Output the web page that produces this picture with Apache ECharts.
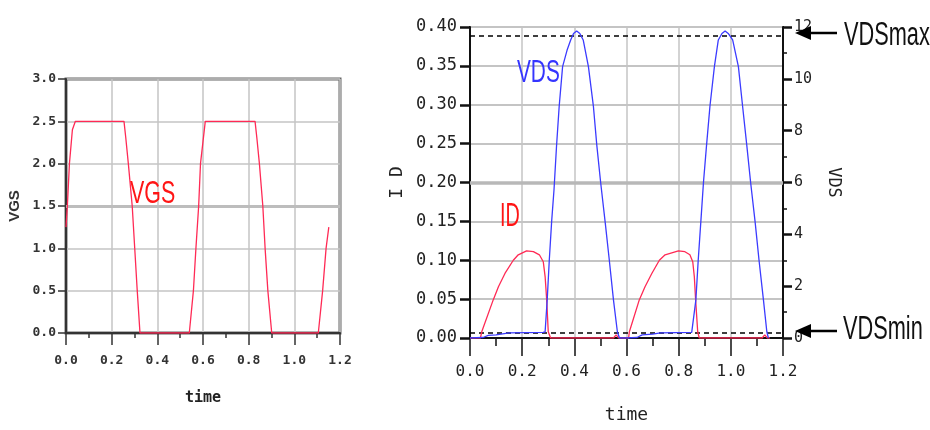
<!DOCTYPE html>
<html><head><meta charset="utf-8">
<script src="https://cdn.jsdelivr.net/npm/echarts@6/dist/echarts.min.js"></script>
<style>html,body{margin:0;padding:0;background:#fff}#c{width:930px;height:430px}</style>
</head><body><div id="c"></div>
<script>
// Left chart: VGS vs time
const vgsTime  = [0, 0.006, 0.015, 0.028, 0.041, 0.254, 0.262, 0.273, 0.29, 0.301, 0.312, 0.324, 0.54, 0.558, 0.569, 0.581, 0.589, 0.61, 0.828, 0.836, 0.847, 0.862, 0.872, 0.884, 0.901, 1.105, 1.124, 1.139, 1.151];
const vgsValue = [1.25, 1.5, 2.0, 2.4, 2.5, 2.5, 2.3, 2.0, 1.5, 1.0, 0.5, 0, 0, 0.5, 1.0, 1.5, 2.0, 2.5, 2.5, 2.3, 2.0, 1.5, 1.0, 0.5, 0, 0, 0.5, 1.0, 1.25];

// Right chart: ID (left axis) and VDS (right axis) vs time
const idTime  = [0, 0.04, 0.045, 0.089, 0.109, 0.134, 0.166, 0.185, 0.217, 0.243, 0.266, 0.281, 0.288, 0.294, 0.3, 0.309, 0.55, 0.56, 0.57, 0.608, 0.611, 0.649, 0.671, 0.697, 0.726, 0.748, 0.799, 0.824, 0.843, 0.854, 0.86, 0.865, 0.873, 0.879, 1.12, 1.13, 1.14, 1.15];
const idValue = [0, 0, 0.008, 0.049, 0.066, 0.083, 0.1, 0.107, 0.112, 0.111, 0.107, 0.098, 0.079, 0.049, 0.008, 0, 0, 0.004, 0, 0, 0.008, 0.049, 0.066, 0.083, 0.1, 0.107, 0.112, 0.111, 0.107, 0.098, 0.079, 0.049, 0.008, 0, 0, 0.004, 0, 0];

const vdsTime  = [0, 0.05, 0.07, 0.1, 0.15, 0.28, 0.288, 0.296, 0.304, 0.313, 0.322, 0.332, 0.342, 0.355, 0.372, 0.386, 0.397, 0.409, 0.421, 0.434, 0.454, 0.473, 0.486, 0.501, 0.518, 0.534, 0.55, 0.565, 0.573, 0.6, 0.64, 0.66, 0.7, 0.73, 0.85, 0.856, 0.866, 0.875, 0.885, 0.895, 0.907, 0.92, 0.937, 0.952, 0.966, 0.978, 0.99, 1.007, 1.029, 1.045, 1.061, 1.076, 1.093, 1.108, 1.125, 1.138, 1.144];
const vdsValue = [0, 0.02, 0.1, 0.12, 0.2, 0.22, 0.24, 1.47, 3.01, 4.49, 5.71, 7.45, 8.95, 10.47, 11.1, 11.5, 11.75, 11.85, 11.75, 11.5, 10.47, 8.95, 7.45, 5.99, 4.49, 3.01, 1.47, 0.24, 0, 0, 0.02, 0.12, 0.15, 0.2, 0.22, 0.24, 1.47, 3.01, 4.49, 5.99, 7.45, 8.95, 10.47, 11.5, 11.75, 11.85, 11.75, 11.5, 10.47, 8.95, 7.45, 5.99, 4.49, 3.01, 1.47, 0.24, 0];

// Reference levels
const vdsLevels = [11.65, 0.22];      // VDSmax, VDSmin dashed lines (VDS units)
const vgsMidLine = [1.5];
const idMidLine = [0.2];

const pairs = (xs, ys) => xs.map((x, i) => [x, ys[i]]);
const mono = 'DejaVu Sans Mono';
const sans = 'Liberation Sans';

const chart = echarts.init(document.getElementById('c'));

const option = {
  animation: false,
  backgroundColor: '#fff',
  grid: [
    {left: 66, top: 79, width: 274, height: 254, show: true, borderColor: '#666', borderWidth: 3},
    {left: 470, top: 27, width: 313, height: 311, show: true, borderColor: '#111', borderWidth: 2}
  ],
  xAxis: [
    {gridIndex: 0, type: 'value', min: 0, max: 1.2, interval: 0.2,
     name: 'time', nameLocation: 'middle', nameGap: 58,
     nameTextStyle: {fontFamily: mono, fontSize: 15, fontWeight: 'bold', color: '#222'},
     axisLine: {lineStyle: {color: '#333', width: 2}},
     axisTick: {length: 12, lineStyle: {color: '#333', width: 1.5}},
     minorTick: {show: true, splitNumber: 2, length: 5, lineStyle: {color: '#333', width: 1.5}},
     axisLabel: {margin: 21, fontFamily: mono, fontSize: 13, fontWeight: 'bold', color: '#333', formatter: v => v.toFixed(1)},
     splitLine: {show: true, lineStyle: {color: '#c4c4c4', width: 1.5}}},
    {gridIndex: 1, type: 'value', min: 0, max: 1.2, interval: 0.2,
     name: 'time', nameLocation: 'middle', nameGap: 68,
     nameTextStyle: {fontFamily: mono, fontSize: 18, color: '#222'},
     axisLine: {lineStyle: {color: '#111', width: 2}},
     axisTick: {length: 18, lineStyle: {color: '#111', width: 1.5}},
     minorTick: {show: true, splitNumber: 2, length: 8, lineStyle: {color: '#111', width: 1.5}},
     axisLabel: {margin: 26, fontFamily: mono, fontSize: 16, color: '#222', formatter: v => v.toFixed(1)},
     splitLine: {show: true, lineStyle: {color: '#c4c4c4', width: 1.5}}}
  ],
  yAxis: [
    {gridIndex: 0, type: 'value', min: 0, max: 3, interval: 0.5,
     name: 'VGS', nameLocation: 'middle', nameGap: 44, nameRotate: 90,
     nameTextStyle: {fontFamily: sans, fontSize: 15, fontWeight: 'bold', color: '#333'},
     axisLine: {lineStyle: {color: '#333', width: 2}},
     axisTick: {length: 8, lineStyle: {color: '#333', width: 1.5}},
     axisLabel: {margin: 10, fontFamily: mono, fontSize: 13, fontWeight: 'bold', color: '#333', formatter: v => v.toFixed(1)},
     splitLine: {show: true, lineStyle: {color: '#c4c4c4', width: 1.5}}},
    {gridIndex: 1, type: 'value', min: 0, max: 0.4, interval: 0.05,
     name: 'I D', nameLocation: 'middle', nameGap: 64, nameRotate: 90,
     nameTextStyle: {fontFamily: mono, fontSize: 18, color: '#222'},
     axisLine: {lineStyle: {color: '#111', width: 2}},
     axisTick: {length: 10, lineStyle: {color: '#111', width: 2.5}},
     axisLabel: {margin: 13, fontFamily: mono, fontSize: 17, color: '#222', formatter: v => v.toFixed(2)},
     splitLine: {show: true, lineStyle: {color: '#c4c4c4', width: 2}}},
    {gridIndex: 1, type: 'value', position: 'right', min: 0, max: 12, interval: 2,
     name: 'VDS', nameLocation: 'middle', nameGap: 42, nameRotate: -90,
     nameTextStyle: {fontFamily: mono, fontSize: 17, color: '#222'},
     axisLine: {show: true, lineStyle: {color: '#111', width: 2}},
     axisTick: {length: 9, lineStyle: {color: '#111', width: 2.5}},
     minorTick: {show: true, splitNumber: 2, length: 4, lineStyle: {color: '#111', width: 1.5}},
     axisLabel: {margin: 11, fontFamily: mono, fontSize: 15, color: '#222'},
     splitLine: {show: false}}
  ],
  series: [
    {type: 'line', xAxisIndex: 0, yAxisIndex: 0, data: pairs(vgsTime, vgsValue),
     showSymbol: false, lineStyle: {color: '#ff2a55', width: 1.3}, z: 5,
     markLine: {silent: true, symbol: 'none', label: {show: false},
       lineStyle: {color: '#bdbdbd', width: 3, type: 'solid'},
       data: vgsMidLine.map(v => ({yAxis: v}))}},
    {type: 'line', xAxisIndex: 1, yAxisIndex: 1, data: pairs(idTime, idValue),
     showSymbol: false, lineStyle: {color: '#ff2a55', width: 1.3}, z: 5,
     markLine: {silent: true, symbol: 'none', label: {show: false},
       lineStyle: {color: '#b8b8b8', width: 3.5, type: 'solid'},
       data: idMidLine.map(v => ({yAxis: v}))}},
    {type: 'line', xAxisIndex: 1, yAxisIndex: 2, data: pairs(vdsTime, vdsValue),
     showSymbol: false, lineStyle: {color: '#3b3bff', width: 1.3}, z: 6,
     markLine: {silent: true, symbol: 'none', label: {show: false},
       lineStyle: {color: '#000', width: 1.6, type: [5, 4]},
       data: vdsLevels.map(v => ({yAxis: v}))}}
  ],
  graphic: [
    {type: 'text', x: 130, y: 194, scaleX: 0.67, z: 10,
     style: {text: 'VGS', fill: '#ff1515', font: '32px "Liberation Sans"', align: 'left', verticalAlign: 'middle'}},
    {type: 'text', x: 517, y: 73, scaleX: 0.65, z: 10,
     style: {text: 'VDS', fill: '#3535ff', font: '32px "Liberation Sans"', align: 'left', verticalAlign: 'middle'}},
    {type: 'text', x: 500, y: 217, scaleX: 0.6, z: 10,
     style: {text: 'ID', fill: '#ff1515', font: '33px "Liberation Sans"', align: 'left', verticalAlign: 'middle'}},
    {type: 'text', x: 844, y: 36, scaleX: 0.64, z: 10,
     style: {text: 'VDSmax', fill: '#111', font: '34px "Liberation Sans"', align: 'left', verticalAlign: 'middle'}},
    {type: 'text', x: 843, y: 330, scaleX: 0.64, z: 10,
     style: {text: 'VDSmin', fill: '#111', font: '34px "Liberation Sans"', align: 'left', verticalAlign: 'middle'}},
    {type: 'line', z: 10, shape: {x1: 837, y1: 33, x2: 806, y2: 33}, style: {stroke: '#000', lineWidth: 2.5}},
    {type: 'polygon', z: 10, shape: {points: [[795, 33], [811, 26], [811, 40]]}, style: {fill: '#000'}},
    {type: 'line', z: 10, shape: {x1: 837, y1: 331, x2: 806, y2: 331}, style: {stroke: '#000', lineWidth: 2.5}},
    {type: 'polygon', z: 10, shape: {points: [[795, 331], [811, 324], [811, 338]]}, style: {fill: '#000'}}
  ]
};
chart.setOption(option);
</script>
</body></html>
